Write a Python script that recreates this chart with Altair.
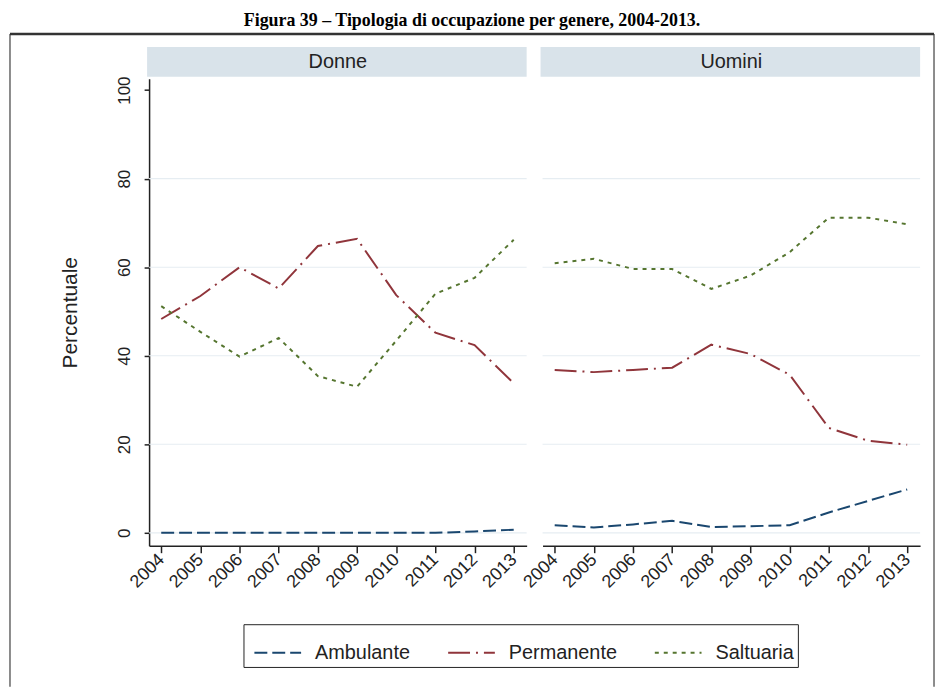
import altair as alt
import pandas as pd

# ---------------- data ----------------
years = [2004, 2005, 2006, 2007, 2008, 2009, 2010, 2011, 2012, 2013]
panels = ["Donne", "Uomini"]
series = ["Ambulante", "Permanente", "Saltuaria"]

donne_ambulante = [0.0, 0.0, 0.0, 0.0, 0.0, 0.0, 0.0, 0.0, 0.3, 0.7]
donne_permanente = [48.3, 53.5, 60.0, 55.2, 64.8, 66.4, 53.7, 45.2, 42.4, 33.8]
donne_saltuaria = [51.2, 45.4, 39.8, 44.0, 35.4, 33.0, 43.4, 54.0, 57.6, 66.2]

uomini_ambulante = [1.7, 1.2, 1.9, 2.7, 1.3, 1.5, 1.7, 4.6, 7.2, 9.8]
uomini_permanente = [36.8, 36.3, 36.8, 37.3, 42.5, 40.4, 35.7, 23.7, 20.8, 19.9]
uomini_saltuaria = [60.9, 61.9, 59.6, 59.6, 55.1, 58.1, 63.4, 71.2, 71.2, 69.7]

y_ticks = [0, 20, 40, 60, 80, 100]
grid_levels = [0, 20, 40, 60, 80]

title_text = "Figura 39 \u2013 Tipologia di occupazione per genere, 2004-2013."

values = {
    ("Donne", "Ambulante"): donne_ambulante,
    ("Donne", "Permanente"): donne_permanente,
    ("Donne", "Saltuaria"): donne_saltuaria,
    ("Uomini", "Ambulante"): uomini_ambulante,
    ("Uomini", "Permanente"): uomini_permanente,
    ("Uomini", "Saltuaria"): uomini_saltuaria,
}
rows = []
for (g, s), vals in values.items():
    for yr, v in zip(years, vals):
        rows.append({"genere": g, "tipo": s, "anno": yr, "valore": v})
df = pd.DataFrame(rows)

# ---------------- style ----------------
FONT = "Liberation Sans"
INK = "#222222"
W, H = 380, 470

xscale = alt.Scale(domain=[2003.69, 2013.33], nice=False, zero=False)
yscale = alt.Scale(domain=[-2.92, 102.58], nice=False, zero=False)

color_scale = alt.Scale(domain=series, range=["#1a476f", "#90353b", "#55752f"])
dash_scale = alt.Scale(domain=series, range=[[13, 5], [22, 6, 2, 6], [4, 5]])

legend = alt.Legend(
    title=None, orient="none", legendX=95, legendY=549, direction="horizontal",
    columns=3, symbolType="stroke", symbolSize=2209, symbolStrokeWidth=2,
    symbolOffset=6,
    labelFont=FONT, labelFontSize=20, labelColor=INK, labelOffset=13,
    columnPadding=31, padding=4, strokeColor=INK, fillColor="white",
)

x_axis = alt.Axis(
    values=years, format="d", title=None, labelAngle=-45, labelAlign="right",
    labelBaseline="middle", labelPadding=4, labelFont=FONT, labelFontSize=18,
    labelColor=INK, labelOverlap=False, labelFlush=False, tickSize=7,
    tickColor=INK, tickWidth=1.5, domainColor=INK, domainWidth=1.5, grid=False,
)

y_axis_left = alt.Axis(
    values=y_ticks, title="Percentuale", titleFont=FONT, titleFontSize=21,
    titleFontWeight="normal", titleColor=INK, titlePadding=35,
    labelAngle=270, labelAlign="center", labelBaseline="alphabetic",
    labelPadding=15, labelFont=FONT, labelFontSize=17, labelColor=INK,
    tickSize=5, tickColor=INK, tickWidth=1.5, domainColor=INK, domainWidth=1.5,
    grid=False,
)


def make_panel(name, first):
    d = df[df["genere"] == name]
    yax = y_axis_left if first else None

    grid = alt.Chart(pd.DataFrame({"valore": grid_levels})).mark_rule(
        color="#e6edf2", strokeWidth=1.2
    ).encode(y=alt.Y("valore:Q", scale=yscale, axis=yax))

    lines = alt.Chart(d).mark_line(strokeWidth=2).encode(
        x=alt.X("anno:Q", scale=xscale, axis=x_axis),
        y=alt.Y("valore:Q", scale=yscale, axis=yax),
        color=alt.Color("tipo:N", scale=color_scale, legend=legend),
        strokeDash=alt.StrokeDash("tipo:N", scale=dash_scale, legend=legend),
        detail="tipo:N",
    )

    hdr_data = pd.DataFrame({"genere": [name]})
    hdr_rect = alt.Chart(hdr_data).mark_rect(fill="#d9e3ea").encode(
        x=alt.value(-2), x2=alt.value(W), y=alt.value(-32), y2=alt.value(-2)
    )
    hdr_text = alt.Chart(hdr_data).mark_text(
        font=FONT, fontSize=20, color=INK, baseline="middle", align="center"
    ).encode(x=alt.value(W / 2), y=alt.value(-17), text="genere:N")

    layers = [grid, lines, hdr_rect, hdr_text]

    if first:
        frame_data = pd.DataFrame({"f": [1]})
        left_line = alt.Chart(frame_data).mark_rule(color="#666666", strokeWidth=1.5).encode(
            x=alt.value(-140), y=alt.value(-45), y2=alt.value(612)
        )
        right_line = alt.Chart(frame_data).mark_rule(color="#666666", strokeWidth=1.5).encode(
            x=alt.value(790), y=alt.value(-45), y2=alt.value(612)
        )
        top_line = alt.Chart(frame_data).mark_rule(color="#333333", strokeWidth=2.5).encode(
            x=alt.value(-140), x2=alt.value(790), y=alt.value(-45)
        )
        layers += [left_line, right_line, top_line]

    return alt.layer(*layers).properties(width=W, height=H)


left = make_panel("Donne", True)
right = make_panel("Uomini", False)

chart = alt.HConcatChart(
    hconcat=[left, right], spacing=16, bounds="flush",
).properties(
    title=alt.TitleParams(
        text=title_text, font="Liberation Serif", fontSize=18, fontWeight="bold",
        color="#000000", anchor="middle", offset=3,
    ),
    padding={"left": 0, "top": 1, "right": 0, "bottom": 0},
    background="white",
).configure_view(strokeWidth=0, stroke="transparent")

chart.save("out.html", embed_options={"renderer": "svg", "actions": False})
